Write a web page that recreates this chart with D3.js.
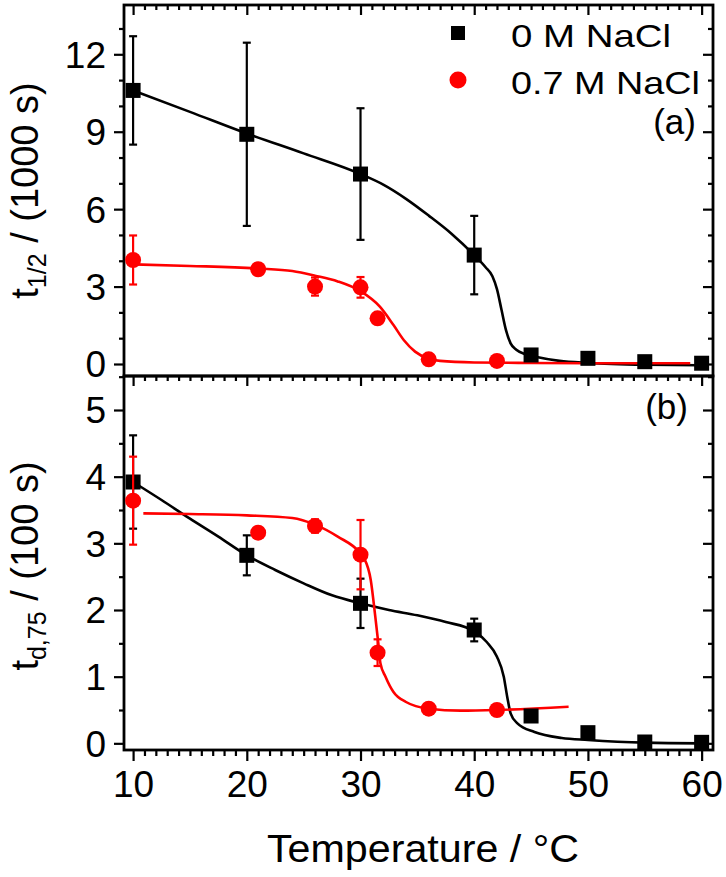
<!DOCTYPE html>
<html>
<head>
<meta charset="utf-8">
<script src="https://cdn.jsdelivr.net/npm/d3@7"></script>
<style>
  html, body { margin: 0; padding: 0; background: #fff; }
  text { font-family: "Liberation Sans", Arial, Helvetica, sans-serif; fill: #000; }
</style>
</head>
<body>
<svg id="chart" width="726" height="877"></svg>
<script>
// ---------------- DATA ----------------
const seriesNames = ["0 M NaCl", "0.7 M NaCl"];
const xTicks = [10, 20, 30, 40, 50, 60];
const yTicksA = [0, 3, 6, 9, 12];
const yTicksB = [0, 1, 2, 3, 4, 5];

// Panel (a): t1/2 / (1000 s)
const aBlackT   = [10, 20, 30, 40, 45, 50, 55, 60];
const aBlackV   = [10.6, 8.9, 7.36, 4.22, 0.35, 0.22, 0.09, 0.03];
const aBlackErr = [2.1, 3.55, 2.55, 1.52, 0, 0, 0, 0];
const aRedT     = [10, 21, 26, 30, 31.5, 36, 42];
const aRedV     = [4.03, 3.67, 3.0, 2.97, 1.77, 0.18, 0.12];
const aRedErr   = [0.95, 0, 0.35, 0.4, 0, 0, 0];
const aBlackFitT = [10, 15, 20, 25, 30, 32, 34, 36, 38, 40, 41, 41.6, 42, 42.4, 42.8, 43.2, 43.7, 44.5, 45.5, 47.5, 50, 55, 60];
const aBlackFitV = [10.6, 9.77, 8.93, 8.16, 7.36, 6.95, 6.4, 5.75, 5.05, 4.22, 3.75, 3.4, 2.9, 2.1, 1.3, 0.8, 0.55, 0.38, 0.27, 0.12, 0.04, -0.03, -0.05];
const aRedFitT = [10, 15, 21, 24, 26, 28, 30, 31.7, 32.9, 33.8, 34.8, 36, 37, 40, 45, 50, 59];
const aRedFitV = [3.86, 3.8, 3.7, 3.6, 3.42, 3.2, 2.82, 2.22, 1.51, 0.93, 0.48, 0.2, 0.12, 0.06, 0.04, 0.03, 0.03];

// Panel (b): t_d,75 / (100 s)
const bBlackT   = [10, 20, 30, 40, 45, 50, 55, 60];
const bBlackV   = [3.92, 2.82, 2.1, 1.7, 0.41, 0.16, 0.02, 0.015];
const bBlackErr = [0.7, 0.3, 0.37, 0.17, 0, 0, 0, 0];
const bRedT     = [10, 21, 26, 30, 31.5, 36, 42];
const bRedV     = [3.64, 3.16, 3.26, 2.83, 1.36, 0.52, 0.5];
const bRedErr   = [0.66, 0, 0.1, 0.52, 0.2, 0, 0];
const bBlackFitT = [10, 12.5, 15, 17.5, 20, 22.5, 25, 27.5, 30, 32.5, 35, 37.5, 40, 41.1, 42, 42.6, 42.9, 43.2, 43.8, 45.3, 47.7, 50, 55, 60];
const bBlackFitV = [3.92, 3.65, 3.37, 3.1, 2.82, 2.6, 2.4, 2.22, 2.1, 2.0, 1.92, 1.82, 1.68, 1.52, 1.3, 1.0, 0.7, 0.45, 0.3, 0.17, 0.08, 0.05, 0.01, 0.0];
const bRedFitT = [10.9, 15, 20, 24, 26, 28, 30, 30.3, 30.9, 31.3, 31.6, 31.75, 32.2, 32.9, 34, 36, 38.8, 42, 48.3];
const bRedFitV = [3.45, 3.44, 3.42, 3.38, 3.28, 3.1, 2.85, 2.78, 2.45, 1.9, 1.45, 1.2, 1.0, 0.77, 0.62, 0.52, 0.49, 0.5, 0.55];

// ---------------- DRAWING ----------------
const svg = d3.select("#chart");
const BLACK = "#000000", RED = "#ff0000";
const left = 124, right = 713;
const topA = 5, midY = 376, botB = 750;

const x = d3.scaleLinear().domain([9.2, 61]).range([left, right]);
const yA = d3.scaleLinear().domain([-0.465, 13.91]).range([midY, topA]);
const yB = d3.scaleLinear().domain([-0.1, 5.51]).range([botB, midY]);

const minorX = d3.range(10, 61, 1).filter(v => !xTicks.includes(v));
const minorYA = d3.range(0, 14, 1).filter(v => !yTicksA.includes(v));
const minorYB = d3.range(0, 5.51, 0.5).filter(v => !yTicksB.includes(v));

function styleAxis(g) {
  g.selectAll(".domain").remove();
  g.selectAll("line").attr("stroke", "#000").attr("stroke-width", 2.2);
}

const tickFont = 37;
function drawPanel(y, yMajor, yMinor, topY, botY, showXLabels) {
  // left axis (outward)
  svg.append("g").attr("transform", `translate(${left},0)`)
    .call(d3.axisLeft(y).tickValues(yMinor).tickSize(5).tickFormat(""))
    .call(styleAxis);
  svg.append("g").attr("transform", `translate(${left},0)`)
    .call(d3.axisLeft(y).tickValues(yMajor).tickSize(10).tickPadding(8).tickFormat(d3.format("d")))
    .call(styleAxis)
    .call(g => g.selectAll("text").attr("font-size", tickFont).attr("dy", "0.35em"));
  // right axis (inward)
  svg.append("g").attr("transform", `translate(${right},0)`)
    .call(d3.axisLeft(y).tickValues(yMinor).tickSize(5).tickFormat(""))
    .call(styleAxis);
  svg.append("g").attr("transform", `translate(${right},0)`)
    .call(d3.axisLeft(y).tickValues(yMajor).tickSize(10).tickFormat(""))
    .call(styleAxis);
  // top axis (inward, ticks pointing down)
  svg.append("g").attr("transform", `translate(0,${topY})`)
    .call(d3.axisBottom(x).tickValues(minorX).tickSize(5).tickFormat(""))
    .call(styleAxis);
  svg.append("g").attr("transform", `translate(0,${topY})`)
    .call(d3.axisBottom(x).tickValues(xTicks).tickSize(10).tickFormat(""))
    .call(styleAxis);
  if (showXLabels) {
    svg.append("g").attr("transform", `translate(0,${botY})`)
      .call(d3.axisBottom(x).tickValues(minorX).tickSize(6).tickFormat(""))
      .call(styleAxis);
    svg.append("g").attr("transform", `translate(0,${botY})`)
      .call(d3.axisBottom(x).tickValues(xTicks).tickSize(11).tickPadding(8).tickFormat(d3.format("d")))
      .call(styleAxis)
      .call(g => g.selectAll("text").attr("font-size", tickFont).attr("dy", "0.75em"));
  }
  // frame
  svg.append("rect").attr("x", left).attr("y", topY).attr("width", right - left).attr("height", botY - topY)
    .attr("fill", "none").attr("stroke", "#000").attr("stroke-width", 2.8);
}

drawPanel(yA, yTicksA, minorYA, topA, midY, false);
drawPanel(yB, yTicksB, minorYB, midY, botB, true);

function fitLine(y, T, V, color) {
  const pts = T.map((t, i) => [t, V[i]]);
  svg.append("path")
    .attr("d", d3.line().x(d => x(d[0])).y(d => y(d[1])).curve(d3.curveMonotoneX)(pts))
    .attr("fill", "none").attr("stroke", color).attr("stroke-width", 2.6);
}
function errBars(y, T, V, E, color) {
  const g = svg.append("g").attr("stroke", color).attr("stroke-width", 2.2);
  T.forEach((t, i) => {
    if (!E[i]) return;
    const cx = x(t), y1 = y(V[i] + E[i]), y2 = y(V[i] - E[i]);
    g.append("line").attr("x1", cx).attr("x2", cx).attr("y1", y1).attr("y2", y2);
    g.append("line").attr("x1", cx - 4).attr("x2", cx + 4).attr("y1", y1).attr("y2", y1);
    g.append("line").attr("x1", cx - 4).attr("x2", cx + 4).attr("y1", y2).attr("y2", y2);
  });
}
function squares(y, T, V) {
  svg.append("g").selectAll("rect").data(T).join("rect")
    .attr("x", (d) => x(d) - 7.5).attr("y", (d, i) => y(V[i]) - 7.5)
    .attr("width", 15).attr("height", 15).attr("fill", BLACK);
}
function circles(y, T, V) {
  svg.append("g").selectAll("circle").data(T).join("circle")
    .attr("cx", d => x(d)).attr("cy", (d, i) => y(V[i])).attr("r", 8).attr("fill", RED);
}

// panel a
fitLine(yA, aBlackFitT, aBlackFitV, BLACK);
fitLine(yA, aRedFitT, aRedFitV, RED);
errBars(yA, aBlackT, aBlackV, aBlackErr, BLACK);
squares(yA, aBlackT, aBlackV);
errBars(yA, aRedT, aRedV, aRedErr, RED);
circles(yA, aRedT, aRedV);

// panel b
fitLine(yB, bBlackFitT, bBlackFitV, BLACK);
fitLine(yB, bRedFitT, bRedFitV, RED);
errBars(yB, bBlackT, bBlackV, bBlackErr, BLACK);
squares(yB, bBlackT, bBlackV);
errBars(yB, bRedT, bRedV, bRedErr, RED);
circles(yB, bRedT, bRedV);

// legend
svg.append("rect").attr("x", 451).attr("y", 26).attr("width", 14).attr("height", 14).attr("fill", BLACK);
svg.append("circle").attr("cx", 458).attr("cy", 80).attr("r", 8.5).attr("fill", RED);
svg.append("text").attr("x", 511).attr("y", 47).attr("font-size", 32)
  .attr("textLength", 160).attr("lengthAdjust", "spacingAndGlyphs").text(seriesNames[0]);
svg.append("text").attr("x", 511).attr("y", 94).attr("font-size", 32)
  .attr("textLength", 189).attr("lengthAdjust", "spacingAndGlyphs").text(seriesNames[1]);
svg.append("text").attr("x", 696).attr("y", 134).attr("font-size", 35).attr("text-anchor", "end").text("(a)");
svg.append("text").attr("x", 688).attr("y", 419).attr("font-size", 35).attr("text-anchor", "end").text("(b)");

// axis titles
svg.append("text").attr("x", 423).attr("y", 862).attr("font-size", 38)
  .attr("text-anchor", "middle").attr("textLength", 312).attr("lengthAdjust", "spacingAndGlyphs")
  .text("Temperature / °C");

function yTitle(cy, sub, rest) {
  const t = svg.append("text").attr("transform", `translate(38,${cy}) rotate(-90)`)
    .attr("text-anchor", "middle").attr("font-size", 38);
  t.append("tspan").text("t");
  t.append("tspan").attr("font-size", 25).attr("dy", 8).text(sub);
  t.append("tspan").attr("dy", -8).text(rest);
}
yTitle((topA + midY) / 2, "1/2", " / (1000 s)");
yTitle((midY + botB) / 2 + 3, "d,75", " / (100 s)");
</script>
</body>
</html>
